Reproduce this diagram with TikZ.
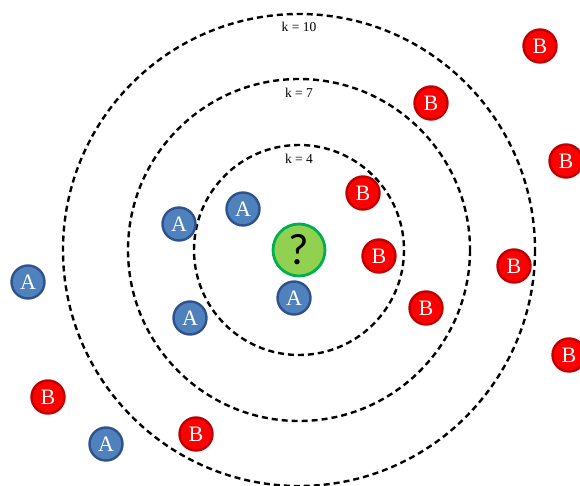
\documentclass[tikz,border=0pt]{standalone}
\usepackage{fontspec}
\setmainfont{Liberation Serif}
\newfontfamily\qfont{Carlito}
\definecolor{bfill}{HTML}{FF0000}
\definecolor{bdraw}{HTML}{C00000}
\definecolor{afill}{HTML}{4F81BD}
\definecolor{adraw}{HTML}{2F528F}
\definecolor{qfill}{HTML}{92D050}
\definecolor{qdraw}{HTML}{00B050}
\begin{document}
\begin{tikzpicture}[x=1pt,y=-1pt,
  ptA/.style={circle,fill=afill,draw=adraw,line width=2.4pt,minimum size=33pt,inner sep=0pt,text=white,font=\fontsize{22}{22}\selectfont},
  ptB/.style={circle,fill=bfill,draw=bdraw,line width=2.4pt,minimum size=33pt,inner sep=0pt,text=white,font=\fontsize{22}{22}\selectfont},
  ptQ/.style={circle,fill=qfill,draw=qdraw,line width=2.8pt,minimum size=52pt,inner sep=0pt,text=black,font=\qfont\fontsize{44}{44}\selectfont},
  ring/.style={dashed,dash pattern=on 6pt off 4pt,line width=2.4pt},
  klabel/.style={font=\fontsize{13.5}{13.5}\selectfont,inner sep=1pt}]
\useasboundingbox (0,0) rectangle (580,486);
\coordinate (c) at (299,250);
\draw[ring] (c) circle[radius=105];
\draw[ring] (c) circle[radius=171];
\draw[ring] (c) circle[radius=236];
\node[klabel] (k10) at (299,27) {k = 10};
\node[klabel] (k7) at (299,93) {k = 7};
\node[klabel] (k4) at (299,159) {k = 4};
\node[ptQ] (q) at (299,250) {?};
\node[ptA] (a1) at (243,209) {A};
\node[ptA] (a2) at (179,224) {A};
\node[ptA] (a3) at (28,282) {A};
\node[ptA] (a4) at (294,298) {A};
\node[ptA] (a5) at (190,318) {A};
\node[ptA] (a6) at (106,444) {A};
\node[ptB] (b1) at (540,46) {B};
\node[ptB] (b2) at (431,103) {B};
\node[ptB] (b3) at (566,161) {B};
\node[ptB] (b4) at (363,193) {B};
\node[ptB] (b5) at (379,256) {B};
\node[ptB] (b6) at (514,266) {B};
\node[ptB] (b7) at (426,308) {B};
\node[ptB] (b8) at (569,355) {B};
\node[ptB] (b9) at (48,397) {B};
\node[ptB] (b10) at (196,434) {B};
\end{tikzpicture}
\end{document}
